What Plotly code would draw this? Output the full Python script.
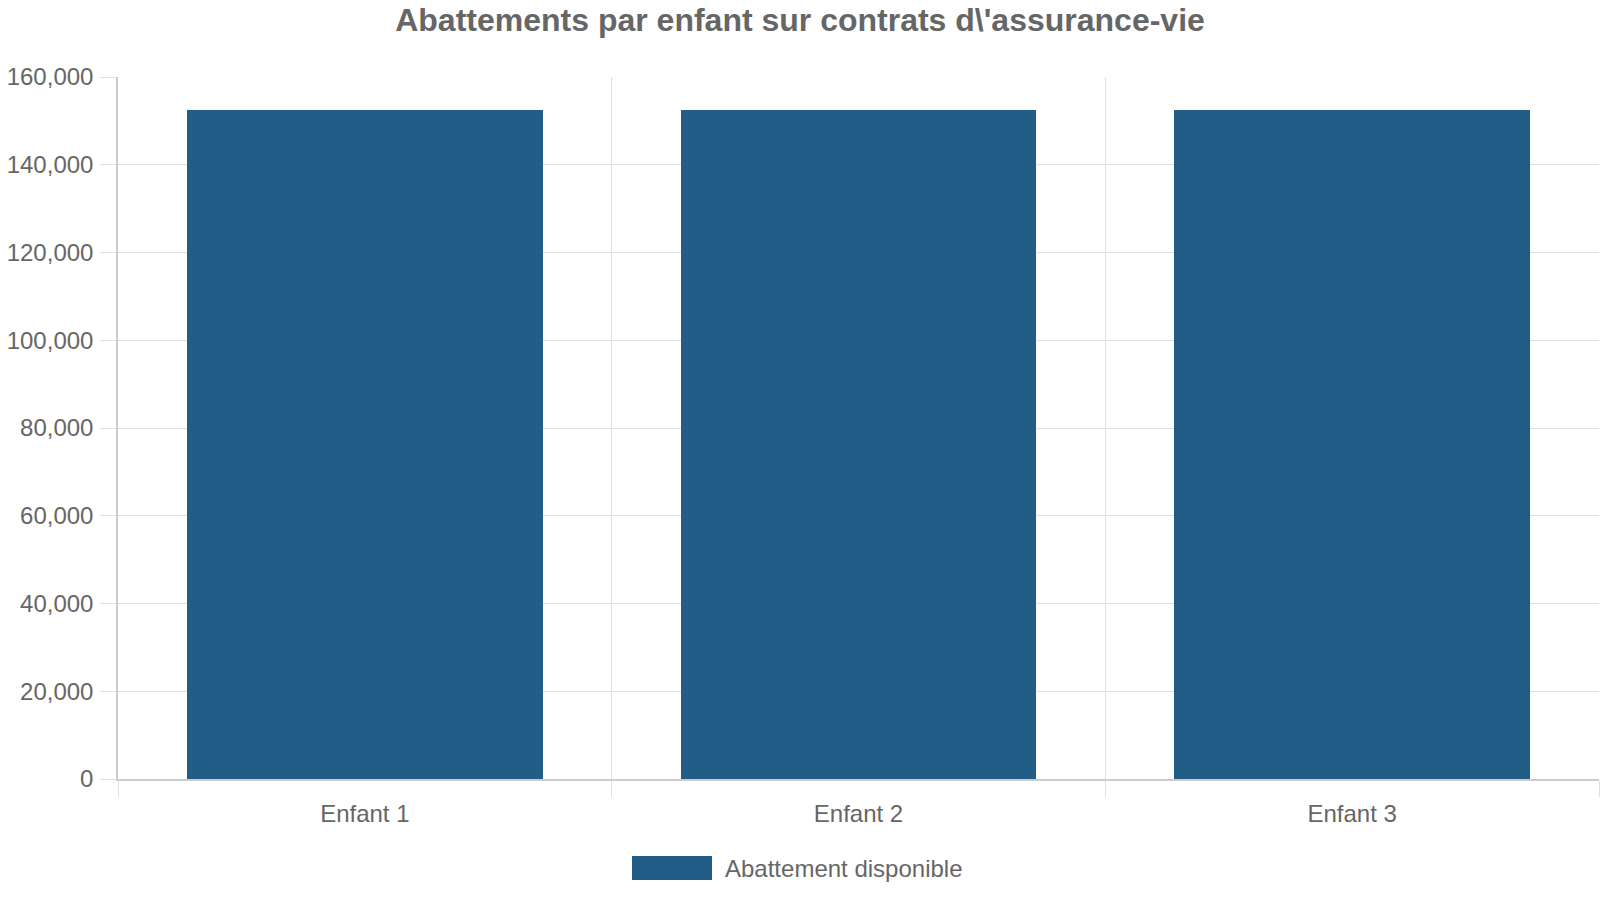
import plotly.graph_objects as go

categories = ["Enfant 1", "Enfant 2", "Enfant 3"]
values = [152500, 152500, 152500]
series_name = "Abattement disponible"
title = "Abattements par enfant sur contrats d\\'assurance-vie"
y_ticks = [0, 20000, 40000, 60000, 80000, 100000, 120000, 140000, 160000]

BAR = "#215d86"
GRID = "#e0e0e0"
AXIS = "#cccccc"
TXT = "#666666"
FONT = "Liberation Sans, Arial, sans-serif"

W, H = 1600, 900
L, R, T, B = 118, 1, 77, 121
PW, PH = W - L - R, H - T - B

fig = go.Figure()
fig.add_trace(go.Bar(x=categories, y=values, name=series_name,
                     marker=dict(color=BAR, line=dict(width=0)),
                     width=0.72, showlegend=False))

fig.update_layout(
    width=W, height=H,
    margin=dict(l=L, r=R, t=T, b=B),
    paper_bgcolor="white", plot_bgcolor="white",
    font=dict(family=FONT, color=TXT, size=24),
    title=dict(text="<b>" + title + "</b>", x=0.5, xanchor="center",
               xref="container", y=1 - 20 / H, yanchor="middle",
               font=dict(size=32, color=TXT, family=FONT)),
    bargap=0,
    showlegend=False,
)
fig.update_xaxes(type="category", tickson="boundaries", showgrid=True,
                 gridcolor=GRID, gridwidth=1.3, ticks="outside", ticklen=16,
                 tickcolor=GRID, tickwidth=1.3, showline=True, linecolor=AXIS,
                 linewidth=2, tickfont=dict(size=24, color=TXT),
                 ticklabelstandoff=12, range=[-0.5, 2.5])
fig.update_yaxes(range=[0, 160000], tickvals=y_ticks,
                 ticktext=[f"{v:,}" for v in y_ticks],
                 showgrid=True, gridcolor=GRID, gridwidth=1.3,
                 ticks="outside", ticklen=16, tickcolor=GRID, tickwidth=1.3,
                 showline=True, linecolor=AXIS, linewidth=1.5,
                 zeroline=False, tickfont=dict(size=24, color=TXT),
                 ticklabelstandoff=2)

# legend box (Chart.js style)
fig.add_shape(type="rect", xref="paper", yref="paper",
              x0=(632 - L) / PW, x1=(712 - L) / PW,
              y0=(H - B - 880) / PH, y1=(H - B - 856) / PH,
              fillcolor=BAR, line=dict(width=0))
fig.add_annotation(text=series_name, xref="paper", yref="paper",
                   x=(723 - L) / PW, y=(H - B - 868) / PH,
                   xanchor="left", yanchor="middle", showarrow=False,
                   font=dict(size=24, color=TXT, family=FONT))

fig.write_html("out.html",
               config={"displayModeBar": False},
               post_script="document.body.style.margin='0';"
                           "document.body.style.overflow='hidden';")
